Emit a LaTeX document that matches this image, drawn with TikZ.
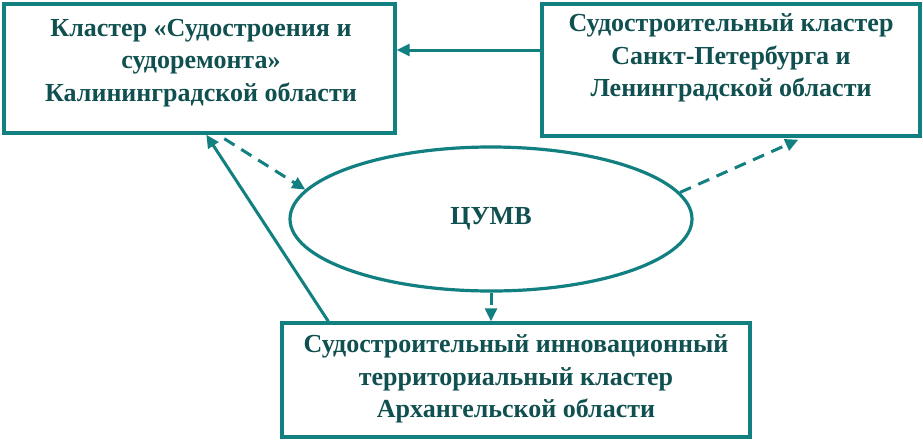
\documentclass[tikz,border=0pt]{standalone}
\usepackage{fontspec}
\setmainfont{Liberation Serif}
\usetikzlibrary{arrows.meta,shapes.geometric}
\definecolor{lnc}{RGB}{18,128,128}
\definecolor{txc}{RGB}{16,80,80}
\tikzset{
  boxnode/.style={draw=lnc, line width=3.4pt, rectangle, inner sep=0pt},
  lbl/.style={text=txc, align=center, inner sep=0pt, font=\bfseries\fontsize{26}{32.5}\selectfont},
  ellnode/.style={draw=lnc, line width=3.2pt, ellipse, inner sep=0pt, minimum width=402pt, minimum height=144pt, text=txc, font=\bfseries\fontsize{26}{30}\selectfont},
  arr/.style={draw=lnc, line width=3pt, -{Triangle[length=13pt,width=12pt]}},
  darr/.style={arr, dash pattern=on 12pt off 8pt}
}
\begin{document}
\begin{tikzpicture}[x=1pt,y=-1pt]
\useasboundingbox[fill=white] (0,0) rectangle (923,440);
\node[boxnode, minimum width=391pt, minimum height=129pt] (k) at (199.5,68.5) {};
\node[boxnode, minimum width=378pt, minimum height=132pt] (s) at (731,70) {};
\node[boxnode, minimum width=468pt, minimum height=114pt] (a) at (516,380) {};
\node[ellnode] (c) at (491,219) {ЦУМВ};
\node[lbl] (kt) at (201,63) {Кластер «Судостроения и\\судоремонта»\\Калининградской области};
\node[lbl] (st) at (731,58) {Судостроительный кластер\\Санкт-Петербурга и\\Ленинградской области};
\node[lbl] (at) at (516,379) {Судостроительный инновационный\\территориальный кластер\\Архангельской области};
\draw[arr] ([yshift=20pt]s.west) -- ([yshift=18.5pt]k.east);
\draw[arr] ([xshift=48pt]a.north west) -- ([xshift=204pt]k.south west);
\draw[darr] ([xshift=222pt,yshift=-4pt]k.south west) -- (c.171);
\draw[darr] (c.8) -- ([xshift=258pt,yshift=-2pt]s.south west);
\draw[darr] (c.south) -- (c.south |- a.north);
\end{tikzpicture}
\end{document}
